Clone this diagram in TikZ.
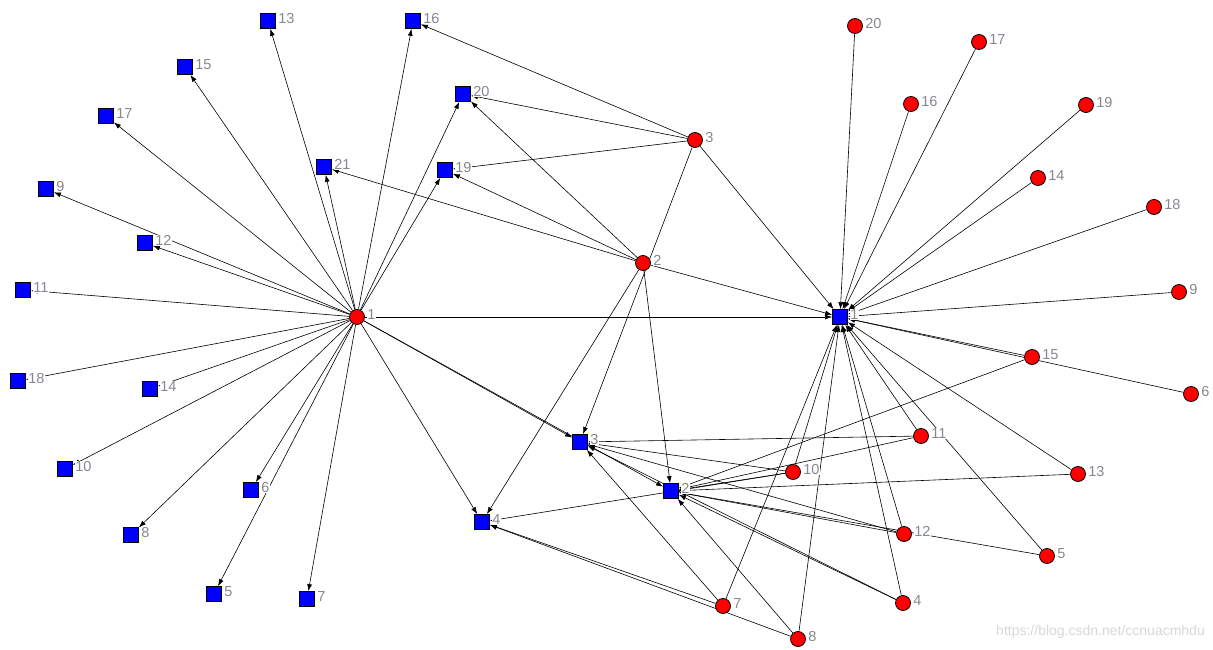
\documentclass[tikz,border=0pt]{standalone}
\usepackage{fontspec}
\setmainfont{Liberation Sans}
\usetikzlibrary{arrows.meta}
\definecolor{labelgray}{RGB}{135,135,145}
\definecolor{wmgray}{RGB}{215,215,215}
\newcommand\lblfont{\fontsize{14.5}{16}\selectfont}
\pgfdeclarelayer{edges}
\pgfsetlayers{edges,main}
\tikzset{
  sq/.style={rectangle, draw=black, fill=blue, minimum size=15pt, inner sep=0pt, line width=0.8pt},
  rc/.style={circle, draw=black, fill=red, minimum size=15pt, inner sep=0pt, line width=0.8pt},
  lbl/.style={text=labelgray, fill=white, inner sep=0.3pt, anchor=base west, xshift=2pt, yshift=-2.3pt, font=\lblfont},
  e/.style={-{Latex[length=7pt,width=5pt]}, line width=0.6pt, draw=black},
}
\begin{document}
\begin{tikzpicture}[x=1pt,y=-1pt]
\useasboundingbox (0,0) rectangle (1213,650);
% blue squares
\foreach \n/\x/\y in {1/840/317, 2/671/491, 3/580/442, 4/482/522, 5/214/594, 6/251/490, 7/307/599,
  8/131/535, 9/46/189, 10/65/469, 11/23/290, 12/145/243, 13/268/21, 14/150/389, 15/185/67,
  16/413/21, 17/106/116, 18/18/381, 19/445/170, 20/463/94, 21/324/167}{
  \node[sq] (b\n) at (\x,\y) {};
  \node[lbl] (lb\n) at (b\n.east) {\n};
}
% red circles
\foreach \n/\x/\y in {1/357/317, 2/643/263, 3/695/140, 4/903/603, 5/1047/556, 6/1191/394, 7/723/606,
  8/798/639, 9/1179/292, 10/793/472, 11/921/436, 12/904/534, 13/1078/474, 14/1038/178,
  15/1032/357, 16/911/104, 17/979/42, 18/1154/207, 19/1086/105, 20/855/26}{
  \node[rc] (r\n) at (\x,\y) {};
  \node[lbl] (lr\n) at (r\n.east) {\n};
}
\node[text=wmgray, font=\fontsize{14}{16}\selectfont, anchor=east, inner sep=0pt] (wm) at (1205,632) {https://blog.csdn.net/ccnuacmhdu};
\begin{pgfonlayer}{edges}
\foreach \t in {13,15,17,9,12,11,18,14,10,8,6,5,7,21,16,20,19,1,3,2,4}{\draw[e] (r1) -- (b\t);}
\foreach \t in {21,19,20,1,4,2}{\draw[e] (r2) -- (b\t);}
\foreach \t in {16,20,19,1,3}{\draw[e] (r3) -- (b\t);}
\foreach \s in {20,17,16,19,14,18,9,6}{\draw[e] (r\s) -- (b1);}
\foreach \t in {1,2}{\draw[e] (r15) -- (b\t);}
\foreach \t in {1,3,2}{\draw[e] (r11) -- (b\t);}
\foreach \t in {1,2}{\draw[e] (r13) -- (b\t);}
\foreach \t in {1,3,2}{\draw[e] (r12) -- (b\t);}
\foreach \t in {1,2}{\draw[e] (r5) -- (b\t);}
\foreach \t in {1,3,2}{\draw[e] (r4) -- (b\t);}
\foreach \t in {1,3,2,4}{\draw[e] (r10) -- (b\t);}
\foreach \t in {1,3,4}{\draw[e] (r7) -- (b\t);}
\foreach \t in {1,2,4}{\draw[e] (r8) -- (b\t);}
\end{pgfonlayer}
\end{tikzpicture}
\end{document}
